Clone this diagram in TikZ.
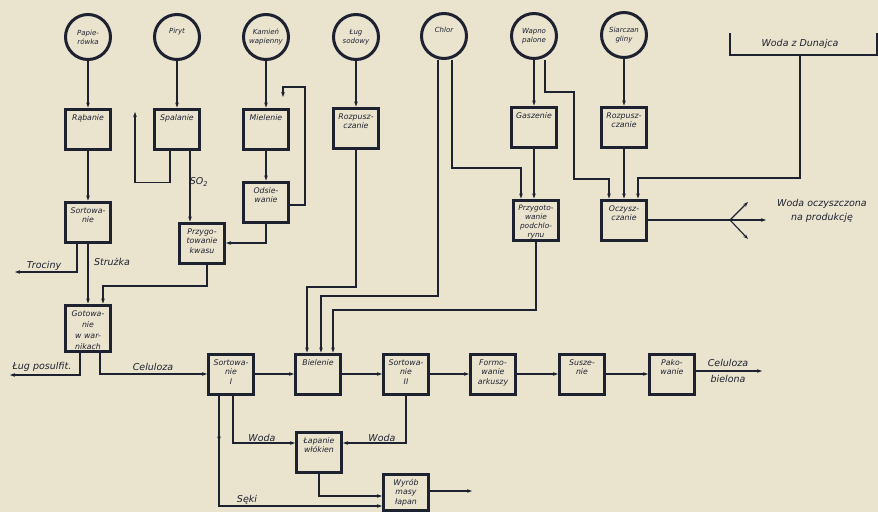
\documentclass[tikz,border=0pt]{standalone}
\usepackage{fontspec}
\setmainfont{DejaVu Sans}
\usetikzlibrary{arrows.meta,decorations.markings}
\definecolor{carta}{RGB}{234,227,206}
\definecolor{inchiostro}{RGB}{30,34,48}

\begin{document}
\begin{tikzpicture}[x=1pt, y=-1pt, font=\itshape,
  >={Stealth[length=5pt,width=3.6pt]},
  linea/.style={draw=inchiostro, line width=1.1pt},
  cerchio/.style={circle, draw=inchiostro, line width=3pt, minimum size=45pt,
    inner sep=0pt, align=center, text=inchiostro, font=\itshape\fontsize{7}{9}\selectfont},
  blocco/.style={rectangle, draw=inchiostro, line width=3pt, minimum width=45pt,
    inner xsep=0pt, inner ysep=2pt, text width=45pt, text height=9pt, text depth=27pt, align=center,
    text=inchiostro, font=\itshape\fontsize{7.8}{9.8}\selectfont},
  scritta/.style={font=\itshape\fontsize{9.5}{14}\selectfont, text=inchiostro, inner sep=1pt, align=center}]

  \useasboundingbox (0,0) rectangle (878,512);
  \fill[carta] (0,0) rectangle (878,512);

  % materie prime
  \node[cerchio] (pap) at (88,37) {Papie-\\rówka};
  \node[cerchio, text depth=12pt] (pir) at (177,37) {Piryt};
  \node[cerchio] (kam) at (266,37) {Kamień\\wapienny};
  \node[cerchio] (lug) at (356,37) {Ług\\sodowy};
  \node[cerchio, text depth=12pt] (chl) at (444,36) {Chlor};
  \node[cerchio] (wap) at (534,36) {Wapno\\palone};
  \node[cerchio] (sia) at (624,35) {Siarczan\\gliny};

  \draw[inchiostro, line width=2.6pt] (730,33) -- (730,55) -- (877,55) -- (877,33);
  \node[scritta] (dun) at (800,44) {Woda z Dunajca};
  \coordinate (presa) at (800,55);

  % prima fila
  \node[blocco] (rab) at (88,129) {Rąbanie};
  \node[blocco] (spa) at (177,129) {Spalanie};
  \node[blocco] (mie) at (266,129) {Mielenie};
  \node[blocco] (roz1) at (356,128) {Rozpusz-\\czanie};
  \node[blocco] (gas) at (534,127) {Gaszenie};
  \node[blocco] (roz2) at (624,127) {Rozpusz-\\czanie};

  \node[blocco] (sor) at (88,222) {Sortowa-\\nie};
  \node[blocco] (ods) at (266,202) {Odsie-\\wanie};
  \node[blocco] (kwa) at (202,243) {Przygo-\\towanie\\kwasu};
  \node[blocco, text height=8pt, text depth=28pt, font=\itshape\fontsize{7.4}{9.2}\selectfont] (pod) at (536,220) {Przygoto-\\wanie\\podchlo-\\rynu};
  \node[blocco] (ocz) at (624,220) {Oczysz-\\czanie};

  \node[blocco, text depth=33pt, font=\itshape\fontsize{7.8}{11}\selectfont] (got) at (88,328) {Gotowa-\\nie\\w war-\\nikach};

  % linea principale
  \node[blocco] (sI) at (231,374) {Sortowa-\\nie\\I};
  \node[blocco] (bie) at (318,374) {Bielenie};
  \node[blocco] (sII) at (406,374) {Sortowa-\\nie\\II};
  \node[blocco] (frm) at (493,374) {Formo-\\wanie\\arkuszy};
  \node[blocco] (sus) at (582,374) {Susze-\\nie};
  \node[blocco] (pak) at (672,374) {Pako-\\wanie};

  \node[blocco] (lap) at (319,452) {Łapanie\\włókien};
  \node[blocco, text depth=23pt] (wyr) at (406,492) {Wyrób\\masy\\łapan};

  % estremi liberi
  \coordinate (trociny) at (15,272);
  \coordinate (posulfit) at (10,375);
  \coordinate (ricircolo) at (135,112);
  \coordinate (ritorno) at (283,97);
  \coordinate (bivio) at (730,220);
  \coordinate (bielona) at (762,371);
  \coordinate (masa) at (472,491);

  % collegamenti
  \draw[linea, ->] (pap) -- (rab);
  \draw[linea, ->] (rab) -- (sor);
  \draw[linea, ->] ([xshift=-11pt]sor.south) |- (trociny);
  \draw[linea, ->] (sor) -- (got);
  \draw[linea, ->] (pir) -- (spa);
  \draw[linea, ->] ([xshift=-7pt]spa.south) -- ++(0,32) -| (ricircolo);
  \draw[linea, ->] ([xshift=13pt]spa.south) -- ([xshift=13pt]spa.south |- kwa.north);
  \draw[linea, ->] (kam) -- (mie);
  \draw[linea, ->] (mie) -- (ods);
  \draw[linea, ->] ([yshift=-3pt]ods.east) -| (305,87) -| (ritorno);
  \draw[linea, ->] (ods.south) |- (kwa.east);
  \draw[linea, ->] ([xshift=5pt]kwa.south) -- ++(0,21.5) -| ([xshift=15pt]got.north);
  \draw[linea, ->] (lug) -- (roz1);
  \draw[linea, ->] (roz1.south) -- (roz1.south |- 0,287) -| ([xshift=-11pt]bie.north);
  \draw[linea, ->] ([xshift=-6pt]chl.south) -- ([xshift=-6pt]chl.south |- 0,296) -| ([xshift=3pt]bie.north);
  \draw[linea, ->] ([xshift=8pt]chl.south) -- ([xshift=8pt]chl.south |- 0,168) -| ([xshift=-15pt]pod.north);
  \draw[linea, ->] (wap) -- (gas);
  \draw[linea, ->] ([xshift=11pt]wap.south) |- (574,92) |- (609,179) -- ([xshift=-15pt]ocz.north);
  \draw[linea, ->] (gas.south) -- (gas.south |- pod.north);
  \draw[linea, ->] (sia) -- (roz2);
  \draw[linea, ->] (roz2) -- (ocz);
  \draw[linea, ->] (presa) |- (638,178) -- ([xshift=14pt]ocz.north);
  \draw[linea] (ocz.east) -- (bivio);
  \draw[linea, ->] (bivio) -- (766,220);
  \draw[linea, ->] (bivio) -- (748,202);
  \draw[linea, ->] (bivio) -- (748,239);
  \draw[linea, ->] (pod.south) -- (pod.south |- 0,310) -| ([xshift=15pt]bie.north);
  \draw[linea, ->] ([xshift=-8pt]got.south) |- (posulfit);
  \draw[linea, ->] ([xshift=12pt]got.south) |- (sI.west);
  \draw[linea, ->] (sI) -- (bie);
  \draw[linea, ->] (bie) -- (sII);
  \draw[linea, ->] (sII) -- (frm);
  \draw[linea, ->] (frm) -- (sus);
  \draw[linea, ->] (sus) -- (pak);
  \draw[linea, ->] (pak.east |- bielona) -- (bielona);
  \draw[linea, ->] ([xshift=2pt]sI.south) |- ([yshift=9pt]lap.west);
  \draw[linea, ->, decoration={markings, mark=at position 46pt with {\arrow{>}}}, postaction={decorate}]
    ([xshift=-12pt]sI.south) |- ([yshift=-14pt]wyr.west);
  \draw[linea, ->] (sII.south) |- ([yshift=9pt]lap.east);
  \draw[linea, ->] (lap.south) |- ([yshift=-4pt]wyr.west);
  \draw[linea, ->] ([yshift=1pt]wyr.east) -- (masa);

  % scritte
  \node[scritta] (tro) at (44,266) {Trociny};
  \node[scritta] (str) at (112,262) {Strużka};
  \node[scritta] (so2) at (199,182) {SO\textsubscript{2}};
  \node[scritta] (pos) at (42,367) {Ług posulfit.};
  \node[scritta] (cel) at (153,367) {Celuloza};
  \node[scritta] (cel2) at (728,363) {Celuloza};
  \node[scritta] (biel) at (728,379) {bielona};
  \node[scritta] (wpr) at (822,211) {Woda oczyszczona\\na produkcję};
  \node[scritta] (wo1) at (262,438) {Woda};
  \node[scritta] (wo2) at (382,438) {Woda};
  \node[scritta] (sek) at (247,500) {Sęki};
\end{tikzpicture}
\end{document}
